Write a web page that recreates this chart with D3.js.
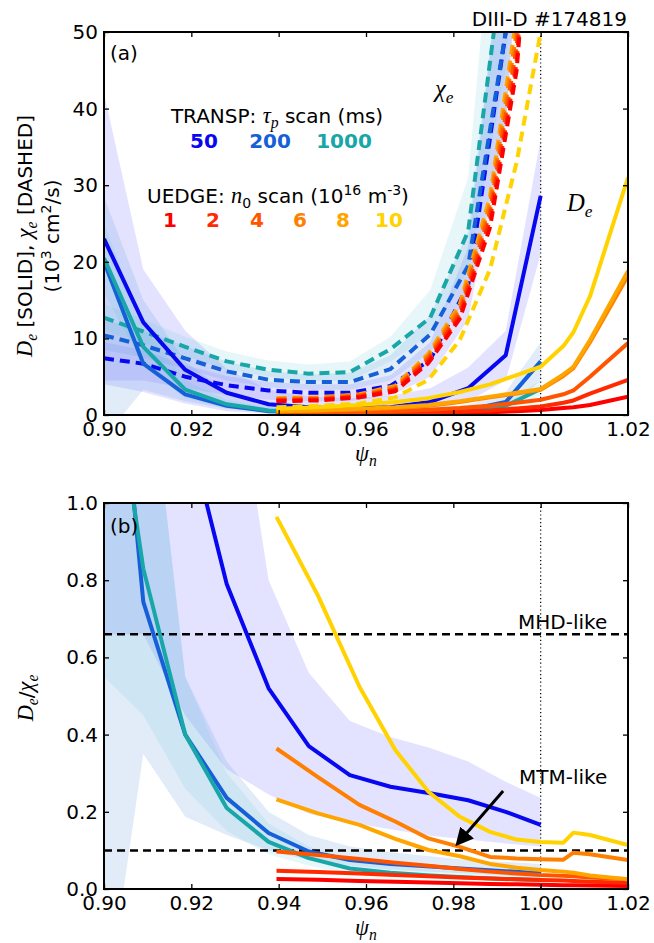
<!DOCTYPE html>
<html><head><meta charset="utf-8">
<script src="https://cdn.jsdelivr.net/npm/d3@7"></script>
<style>body{margin:0;background:#fff} svg{display:block} text{font-family:'DejaVu Sans',sans-serif}</style>
</head><body><svg id="c" width="654" height="943"></svg>
<script>
// ---------------- DATA ----------------
const psiT = [0.9000, 0.9090, 0.9186, 0.9281, 0.9377, 0.9469, 0.9563, 0.9656, 0.9747, 0.9834, 0.9920, 1.0000];
const psiU = [0.9395, 0.9490, 0.9585, 0.9667, 0.9743, 0.9815, 0.9884, 0.9945, 1.0000, 1.0052, 1.0075, 1.0113, 1.0200];

const transpTau = ['50', '200', '1000'];
const transpColors = ['#0808f0', '#1560d8', '#18a6a8'];
// De (10^3 cm^2/s), panel (a) solid
const De_50   = [23, 12.1, 5.9, 2.9, 1.4, 1.0, 0.9, 1.0, 1.7, 3.5, 7.8, 28.6];
const De_200  = [20, 6.7, 2.7, 1.2, 0.5, 0.35, 0.3, 0.3, 0.4, 0.7, 1.7, 7.0];
const De_1000 = [20.5, 8.9, 3.3, 1.4, 0.6, 0.4, 0.35, 0.35, 0.4, 0.6, 1.2, 3.4];
const DeLo_50   = [4, 3, 1.5, 0.5, 0.2, 0.1, 0.1, 0.2, 0.6, 1.8, 4.5, 21];
const DeHi_50   = [42, 19, 11, 6, 3.3, 2.4, 2.2, 2.5, 3.5, 6.2, 11, 36];
const DeLo_200  = [-3, 3.3, 1.8, 0.8, 0.3, 0.15, 0.1, 0.1, 0.1, 0.2, 0.6, 4.5];
const DeHi_200  = [28.5, 15, 7, 3, 1.5, 1.0, 0.8, 0.8, 0.9, 1.3, 3, 9.5];
const DeLo_1000 = [16, 6.5, 2.2, 0.9, 0.3, 0.2, 0.15, 0.15, 0.2, 0.3, 0.7, 2.5];
const DeHi_1000 = [25, 11.5, 4.5, 2.0, 1.0, 0.7, 0.6, 0.6, 0.7, 1.0, 1.8, 4.5];
// chi_e, panel (a) dashed
const chi_50   = [7.4, 6.7, 5.0, 3.9, 3.2, 2.9, 2.9, 3.8, 7.2, 17, 50, 130];
const chi_200  = [10.4, 9.1, 7.4, 5.7, 4.6, 4.3, 4.3, 6.0, 10.5, 19.5, 50, 130];
const chi_1000 = [12.7, 10.9, 8.9, 7.0, 5.9, 5.4, 5.6, 8.6, 12.7, 24, 62, 150];
const chiLo_50   = [4.5, 4.5, 3.5, 2.6, 2.0, 1.8, 1.8, 2.5, 5, 12.5, 38, 100];
const chiHi_50   = [9.5, 8.5, 6.5, 5.1, 4.3, 4.0, 4.0, 5.2, 9.5, 22, 65, 170];
const chiLo_200  = [8.5, 7.5, 6, 4.5, 3.6, 3.3, 3.3, 4.5, 8.2, 15.5, 38, 100];
const chiHi_200  = [12.5, 11, 9, 7, 5.7, 5.3, 5.5, 7.8, 13, 24, 65, 170];
const chiLo_1000 = [11, 9.4, 7.7, 6.0, 5.0, 4.4, 4.5, 7, 10.5, 19, 45, 110];
const chiHi_1000 = [14.5, 12.5, 10.2, 8.3, 7.1, 6.6, 7.0, 10.2, 16.3, 31, 85, 200];
// De/chi_e, panel (b)
const ratio_50   = [2.5, 1.8, 1.22, 0.79, 0.52, 0.37, 0.295, 0.265, 0.248, 0.23, 0.2, 0.166];
const ratio_200  = [1.82, 0.744, 0.40, 0.236, 0.145, 0.097, 0.075, 0.065, 0.058, 0.052, 0.046, 0.041];
const ratio_1000 = [1.52, 0.83, 0.40, 0.21, 0.122, 0.08, 0.053, 0.042, 0.035, 0.03, 0.026, 0.023];
const ratioLo_50   = [0.66, 0.66, 0.45, 0.31, 0.245, 0.195, 0.172, 0.155, 0.138, 0.128, 0.118, 0.11];
const ratioHi_50   = [5, 4, 2.5, 1.5, 0.80, 0.56, 0.435, 0.394, 0.365, 0.33, 0.278, 0.236];
const ratioLo_200  = [-0.35, 0.35, 0.187, 0.14, 0.1, 0.075, 0.06, 0.05, 0.045, 0.04, 0.035, 0.03];
const ratioHi_200  = [3, 1.5, 0.55, 0.33, 0.2, 0.14, 0.11, 0.095, 0.085, 0.075, 0.07, 0.065];
const ratioLo_1000 = [0.55, 0.45, 0.26, 0.15, 0.09, 0.06, 0.04, 0.032, 0.027, 0.023, 0.02, 0.017];
const ratioHi_1000 = [3, 1.5, 0.55, 0.3, 0.17, 0.11, 0.08, 0.06, 0.05, 0.045, 0.04, 0.035];

const uedgeN0 = ['1', '2', '4', '6', '8', '10'];
const uedgeColors = ['#ff0000', '#ff2a00', '#ff5500', '#ff7f00', '#ffa500', '#ffd200'];
const De_n1  = [0.1, 0.1, 0.12, 0.15, 0.2, 0.25, 0.35, 0.5, 0.65, 0.9, 1.0, 1.3, 2.4];
const De_n2  = [0.2, 0.2, 0.25, 0.3, 0.35, 0.45, 0.6, 0.85, 1.1, 1.6, 1.9, 2.8, 4.6];
const De_n4  = [0.3, 0.35, 0.4, 0.5, 0.7, 0.9, 1.2, 1.6, 2.0, 2.7, 3.2, 5.0, 9.4];
const De_n6  = [0.5, 0.6, 0.7, 0.9, 1.2, 1.7, 2.3, 2.8, 3.3, 5.1, 6.1, 9.5, 18.2];
const De_n8  = [0.5, 0.6, 0.8, 1.0, 1.3, 1.8, 2.4, 2.9, 3.4, 5.3, 6.3, 9.8, 18.8];
const De_n10 = [0.8, 1.0, 1.3, 1.7, 2.2, 3.0, 4.0, 5.2, 6.3, 9.0, 10.8, 15.5, 31];
const chi_n1  = [1.8, 1.9, 2.3, 3.1, 6.8, 12.6, 24.5, 45, 85, 150, 200, 300, 500];
const chi_n2  = [1.9, 2.0, 2.4, 3.3, 7.1, 13.0, 25.5, 46, 88, 155, 205, 310, 500];
const chi_n4  = [2.0, 2.1, 2.5, 3.4, 7.4, 13.5, 26.5, 48, 90, 160, 210, 320, 500];
const chi_n6  = [2.1, 2.2, 2.6, 3.6, 7.7, 14, 27.5, 50, 95, 165, 215, 330, 500];
const chi_n8  = [2.2, 2.3, 2.7, 3.8, 8.0, 14.5, 28.5, 52, 98, 170, 220, 340, 500];
const chi_n10 = [1.0, 1.2, 1.5, 2.3, 4.6, 9.8, 19, 33, 50, 80, 100, 150, 300];
const ratio_n1  = [0.026, 0.024, 0.021, 0.019, 0.017, 0.015, 0.013, 0.012, 0.011, 0.010, 0.010, 0.009, 0.008];
const ratio_n2  = [0.047, 0.044, 0.040, 0.036, 0.033, 0.030, 0.027, 0.025, 0.023, 0.022, 0.021, 0.019, 0.016];
const ratio_n4  = [0.097, 0.088, 0.078, 0.068, 0.060, 0.052, 0.045, 0.040, 0.036, 0.034, 0.033, 0.030, 0.025];
const ratio_n6  = [0.364, 0.29, 0.218, 0.175, 0.131, 0.109, 0.083, 0.079, 0.077, 0.076, 0.094, 0.09, 0.075];
const ratio_n8  = [0.232, 0.196, 0.166, 0.13, 0.101, 0.085, 0.065, 0.055, 0.049, 0.045, 0.042, 0.035, 0.025];
const ratio_n10 = [0.964, 0.76, 0.524, 0.36, 0.252, 0.187, 0.148, 0.128, 0.122, 0.12, 0.146, 0.14, 0.114];

const xTicks = [0.90, 0.92, 0.94, 0.96, 0.98, 1.00, 1.02];
const yTicksA = [0, 10, 20, 30, 40, 50];
const yTicksB = [0, 0.2, 0.4, 0.6, 0.8, 1.0];
const refLevels = [0.66, 0.1];
const refLabels = ['MHD-like', 'MTM-like'];

// ---------------- TABLES ----------------
const transp = [
  {De: De_50, chi: chi_50, r: ratio_50, DeLo: DeLo_50, DeHi: DeHi_50, chiLo: chiLo_50, chiHi: chiHi_50, rLo: ratioLo_50, rHi: ratioHi_50, fill: '#9999ff', op: 0.27},
  {De: De_200, chi: chi_200, r: ratio_200, DeLo: DeLo_200, DeHi: DeHi_200, chiLo: chiLo_200, chiHi: chiHi_200, rLo: ratioLo_200, rHi: ratioHi_200, fill: '#6fa0e0', op: 0.2},
  {De: De_1000, chi: chi_1000, r: ratio_1000, DeLo: DeLo_1000, DeHi: DeHi_1000, chiLo: chiLo_1000, chiHi: chiHi_1000, rLo: ratioLo_1000, rHi: ratioHi_1000, fill: '#60c0d0', op: 0.15}
].map((d, i) => Object.assign(d, {color: transpColors[i], label: transpTau[i]}));
const uedge = [
  {De: De_n1, chi: chi_n1, r: ratio_n1}, {De: De_n2, chi: chi_n2, r: ratio_n2},
  {De: De_n4, chi: chi_n4, r: ratio_n4}, {De: De_n6, chi: chi_n6, r: ratio_n6},
  {De: De_n8, chi: chi_n8, r: ratio_n8}, {De: De_n10, chi: chi_n10, r: ratio_n10}
].map((d, i) => Object.assign(d, {color: uedgeColors[i], label: uedgeN0[i]}));

// ---------------- DRAW ----------------
const svg = d3.select('#c');
const L = 104, R = 628;
const x = d3.scaleLinear([0.90, 1.02], [L, R]);
const yA = d3.scaleLinear([0, 50], [415, 32]);
const yB = d3.scaleLinear([0, 1], [889, 503]);
const FS = 20;
const MATH = "'Liberation Serif','DejaVu Serif',serif";

function rich(sel, parts, fs) {
  let cur = 0;
  parts.forEach(p => {
    const target = p.sub ? fs * 0.25 : p.sup ? -fs * 0.42 : 0;
    const ts = sel.append('tspan').text(p.t).attr('dy', target - cur);
    cur = target;
    let size = fs;
    if (p.it) { ts.attr('font-family', MATH).attr('font-style', 'italic'); size = fs * 1.12; }
    if (p.sub || p.sup) size = size * 0.7;
    ts.attr('font-size', size);
  });
}

const defs = svg.append('defs');
function clip(id, y0, y1) {
  defs.append('clipPath').attr('id', id).append('rect')
    .attr('x', L).attr('y', y0).attr('width', R - L).attr('height', y1 - y0);
}
clip('ca', 32, 415); clip('cb', 503, 889);
defs.append('marker').attr('id', 'ah').attr('viewBox', '0 0 10 10').attr('refX', 8).attr('refY', 5)
  .attr('markerWidth', 6).attr('markerHeight', 6).attr('markerUnits', 'strokeWidth').attr('orient', 'auto')
  .append('path').attr('d', 'M0,0 L10,5 L0,10 Z').attr('fill', '#000');

function panel(y, clipId, yTicks, fmt) {
  const g = svg.append('g');
  const plot = g.append('g').attr('clip-path', `url(#${clipId})`);
  return {g, plot, y, yTicks, fmt};
}

function axes(p) {
  const [yb, yt] = p.y.range();
  const g = p.g;
  g.append('g').attr('transform', `translate(0,${yb})`)
    .call(d3.axisBottom(x).tickValues(xTicks).tickFormat(d3.format('.2f')).tickSizeInner(-5).tickSizeOuter(0).tickPadding(7))
    .call(s => s.select('.domain').remove());
  g.append('g').attr('transform', `translate(0,${yt})`)
    .call(d3.axisTop(x).tickValues(xTicks).tickFormat('').tickSizeInner(-5).tickSizeOuter(0))
    .call(s => s.select('.domain').remove());
  g.append('g').attr('transform', `translate(${L},0)`)
    .call(d3.axisLeft(p.y).tickValues(p.yTicks).tickFormat(p.fmt).tickSizeInner(-5).tickSizeOuter(0).tickPadding(6))
    .call(s => s.select('.domain').remove());
  g.append('g').attr('transform', `translate(${R},0)`)
    .call(d3.axisRight(p.y).tickValues(p.yTicks).tickFormat('').tickSizeInner(-5).tickSizeOuter(0))
    .call(s => s.select('.domain').remove());
  g.selectAll('.tick line').attr('stroke', '#000').attr('stroke-width', 1.3);
  g.selectAll('.tick text').attr('font-size', FS).attr('font-family', "'DejaVu Sans',sans-serif").attr('fill', '#000');
  g.append('rect').attr('x', L).attr('y', yt).attr('width', R - L).attr('height', yb - yt)
    .attr('fill', 'none').attr('stroke', '#000').attr('stroke-width', 2);
}

function band(p, xs, lo, hi, fill, op) {
  const a = d3.area().x((d, i) => x(xs[i])).y0((d, i) => p.y(lo[i])).y1((d, i) => p.y(hi[i]));
  p.plot.append('path').attr('d', a(xs)).attr('fill', fill).attr('fill-opacity', op).attr('stroke', 'none');
}
function line(p, xs, ys, color, dashed) {
  const l = d3.line().x((d, i) => x(xs[i])).y((d, i) => p.y(ys[i]));
  const path = p.plot.append('path').attr('d', l(xs)).attr('fill', 'none').attr('stroke', color)
    .attr('stroke-width', 4).attr('stroke-linejoin', 'round');
  if (dashed) path.attr('stroke-dasharray', '10,6');
}
function vdot(p) {
  const [yb, yt] = p.y.range();
  p.plot.append('line').attr('x1', x(1.0)).attr('x2', x(1.0)).attr('y1', yt).attr('y2', yb)
    .attr('stroke', '#000').attr('stroke-width', 1.2).attr('stroke-dasharray', '1.2,2.6');
}

// ----- Panel (a)
const pa = panel(yA, 'ca', yTicksA, d3.format('d'));
transp.forEach(t => { band(pa, psiT, t.DeLo, t.DeHi, t.fill, t.op); band(pa, psiT, t.chiLo, t.chiHi, t.fill, t.op); });
vdot(pa);
transp.forEach(t => line(pa, psiT, t.chi, t.color, true));
transp.forEach(t => line(pa, psiT, t.De, t.color, false));
[4, 3, 2, 1, 0, 5].forEach(i => line(pa, psiU, uedge[i].chi, uedge[i].color, true));
uedge.forEach(u => line(pa, psiU, u.De, u.color, false));
axes(pa);

// ----- Panel (b)
const pb = panel(yB, 'cb', yTicksB, d3.format('.1f'));
transp.forEach(t => band(pb, psiT, t.rLo, t.rHi, t.fill, t.op));
vdot(pb);
refLevels.forEach(v => pb.plot.append('line').attr('x1', L).attr('x2', R).attr('y1', yB(v)).attr('y2', yB(v))
  .attr('stroke', '#000').attr('stroke-width', 2.5).attr('stroke-dasharray', '8,5'));
transp.forEach(t => line(pb, psiT, t.r, t.color, false));
uedge.forEach(u => line(pb, psiU, u.r, u.color, false));
axes(pb);

// annotations (b)
svg.append('text').attr('x', 518).attr('y', yB(refLevels[0]) - 5).attr('font-size', FS).text(refLabels[0]);
svg.append('text').attr('x', 519).attr('y', 784).attr('font-size', FS).text(refLabels[1]);
svg.append('line').attr('x1', x(0.9914)).attr('y1', yB(0.254)).attr('x2', x(0.9810)).attr('y2', yB(0.118))
  .attr('stroke', '#000').attr('stroke-width', 3).attr('marker-end', 'url(#ah)');

// panel tags & title
svg.append('text').attr('x', 110).attr('y', 60).attr('font-size', FS).text('(a)');
svg.append('text').attr('x', 110).attr('y', 533).attr('font-size', FS).text('(b)');
svg.append('text').attr('x', 627).attr('y', 26).attr('font-size', FS).attr('text-anchor', 'end').text('DIII-D #174819');

// curve labels
rich(svg.append('text').attr('x', 435).attr('y', 97), [{t: 'χ', it: true}, {t: 'e', it: true, sub: true}], 22);
rich(svg.append('text').attr('x', 567).attr('y', 211), [{t: 'D', it: true}, {t: 'e', it: true, sub: true}], 22);

// legend
rich(svg.append('text').attr('x', 277).attr('y', 123).attr('text-anchor', 'middle'),
  [{t: 'TRANSP: '}, {t: 'τ', it: true}, {t: 'p', it: true, sub: true}, {t: ' scan (ms)'}], FS);
const tCenters = [204, 270, 344];
transp.forEach((t, i) => svg.append('text').attr('x', tCenters[i]).attr('y', 148).attr('text-anchor', 'middle')
  .attr('font-size', FS).attr('font-weight', 'bold').attr('fill', t.color).text(t.label));
rich(svg.append('text').attr('x', 278).attr('y', 203).attr('text-anchor', 'middle'),
  [{t: 'UEDGE: '}, {t: 'n', it: true}, {t: '0', sub: true}, {t: ' scan (10'}, {t: '16', sup: true}, {t: ' m'}, {t: '-3', sup: true}, {t: ')'}], FS);
const uCenters = [170, 213, 257, 300, 343, 389];
uedge.forEach((u, i) => svg.append('text').attr('x', uCenters[i]).attr('y', 227).attr('text-anchor', 'middle')
  .attr('font-size', FS).attr('font-weight', 'bold').attr('fill', u.color).text(u.label));

// axis labels
[[461], [935]].forEach(([yy]) => rich(svg.append('text').attr('x', 366).attr('y', yy).attr('text-anchor', 'middle'),
  [{t: 'ψ', it: true}, {t: 'n', it: true, sub: true}], 20));
rich(svg.append('text').attr('transform', 'translate(32,236) rotate(-90)').attr('text-anchor', 'middle'),
  [{t: 'D', it: true}, {t: 'e', it: true, sub: true}, {t: ' [SOLID], '}, {t: 'χ', it: true}, {t: 'e', it: true, sub: true}, {t: ' [DASHED]'}], FS);
rich(svg.append('text').attr('transform', 'translate(59,236) rotate(-90)').attr('text-anchor', 'middle'),
  [{t: '(10'}, {t: '3', sup: true}, {t: ' cm'}, {t: '2', sup: true}, {t: '/s)'}], FS);
rich(svg.append('text').attr('transform', 'translate(33,698) rotate(-90)').attr('text-anchor', 'middle'),
  [{t: 'D', it: true}, {t: 'e', it: true, sub: true}, {t: '/'}, {t: 'χ', it: true}, {t: 'e', it: true, sub: true}], FS);
</script></body></html>
